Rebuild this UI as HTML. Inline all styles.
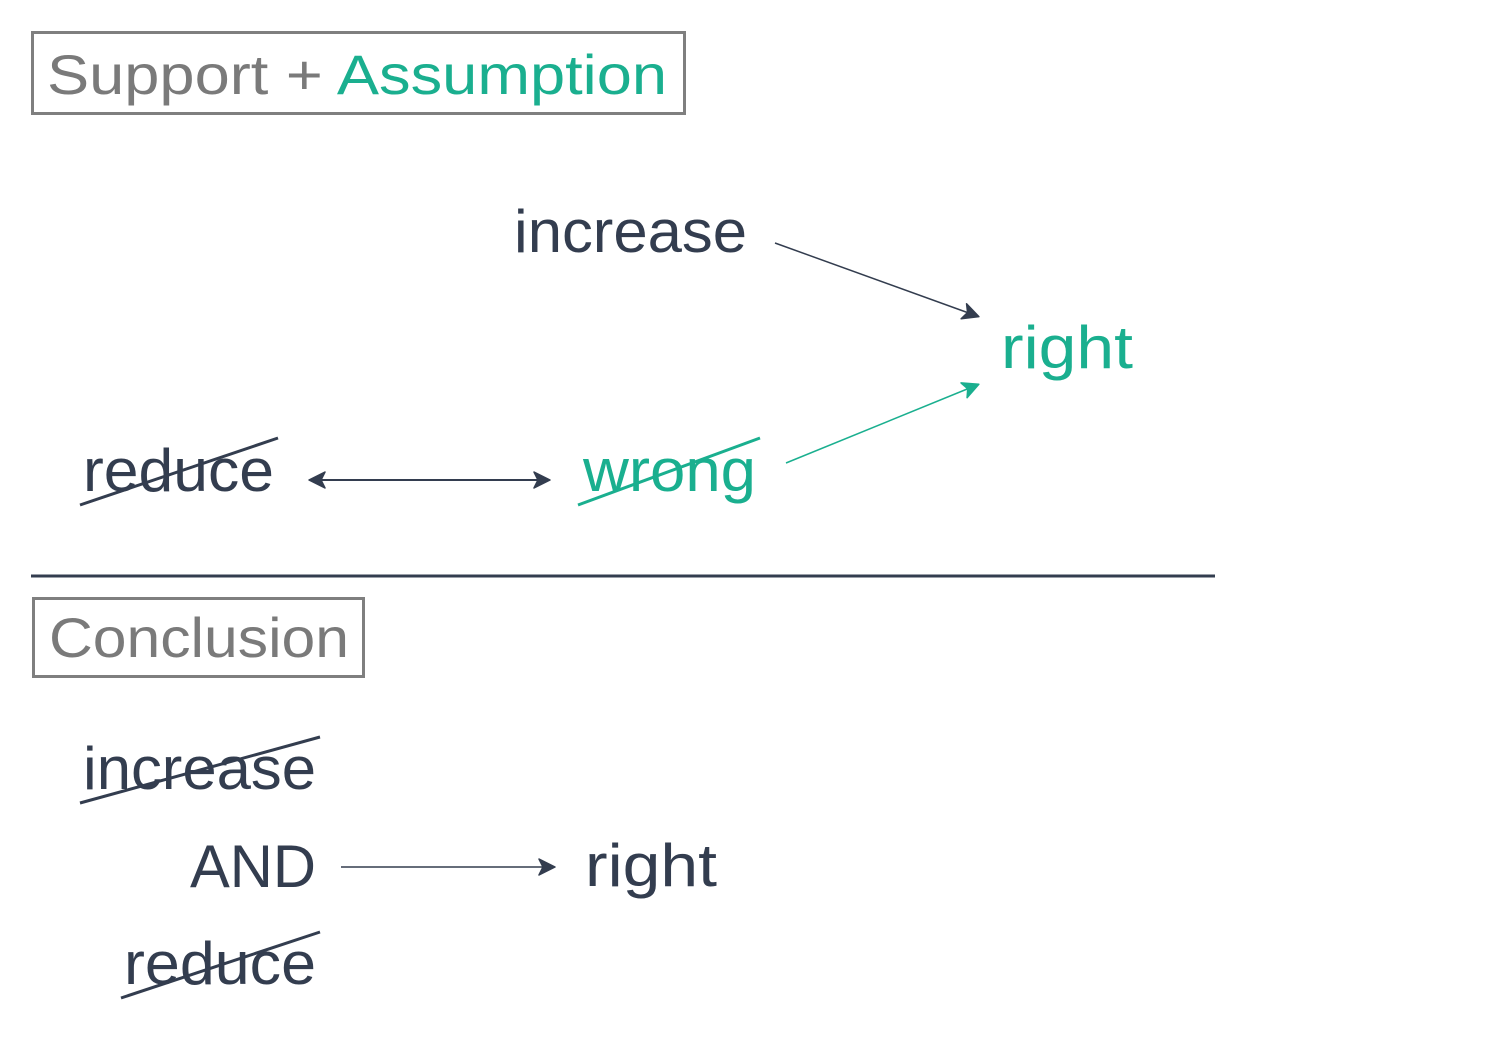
<!DOCTYPE html>
<html><head><meta charset="utf-8"><style>
html,body{margin:0;padding:0;background:#fff;}
svg{display:block;}
text{font-family:"Liberation Sans",sans-serif;}
</style></head><body>
<svg width="1487" height="1050" viewBox="0 0 1487 1050" xmlns="http://www.w3.org/2000/svg">
<defs>
<marker id="ad" viewBox="0 0 20 20" refX="16" refY="10" markerWidth="20" markerHeight="20" markerUnits="userSpaceOnUse" orient="auto-start-reverse">
<path d="M2,2 L18,10 L2,18 L6,10 Z" fill="#333d4f" stroke="#333d4f" stroke-width="1.5" stroke-linejoin="round"/></marker>
<marker id="ag" viewBox="0 0 20 20" refX="16" refY="10" markerWidth="20" markerHeight="20" markerUnits="userSpaceOnUse" orient="auto">
<path d="M2,2 L18,10 L2,18 L6,10 Z" fill="#1aaf8f" stroke="#1aaf8f" stroke-width="1.5" stroke-linejoin="round"/></marker>
</defs>
<rect x="32.5" y="32.5" width="652" height="81" fill="none" stroke="#7f7f7f" stroke-width="3"/>
<text x="47" y="94" font-size="56" fill="#7a7a7a" textLength="620" lengthAdjust="spacingAndGlyphs">Support + <tspan fill="#1aaf8f">Assumption</tspan></text>

<text x="514" y="252" font-size="60" fill="#333d4f" textLength="233" lengthAdjust="spacingAndGlyphs">increase</text>
<text x="1001" y="368" font-size="60" fill="#1aaf8f" textLength="132" lengthAdjust="spacingAndGlyphs">right</text>
<text x="83" y="491" font-size="60" fill="#333d4f" textLength="191" lengthAdjust="spacingAndGlyphs">reduce</text>
<line x1="80" y1="505" x2="278" y2="438" stroke="#333d4f" stroke-width="3"/>
<text x="583" y="491" font-size="60" fill="#1aaf8f" textLength="173" lengthAdjust="spacingAndGlyphs">wrong</text>
<line x1="578" y1="505" x2="760" y2="438" stroke="#1aaf8f" stroke-width="3"/>

<line x1="311" y1="480" x2="548" y2="480" stroke="#333d4f" stroke-width="2" marker-start="url(#ad)" marker-end="url(#ad)"/>
<line x1="775" y1="243" x2="977" y2="316" stroke="#333d4f" stroke-width="1.5" marker-end="url(#ad)"/>
<line x1="786" y1="463" x2="977" y2="385" stroke="#1aaf8f" stroke-width="1.5" marker-end="url(#ag)"/>

<line x1="31" y1="576" x2="1215" y2="576" stroke="#333d4f" stroke-width="3"/>

<rect x="33.5" y="598.5" width="330" height="78" fill="none" stroke="#7f7f7f" stroke-width="3"/>
<text x="49" y="657" font-size="56" fill="#7a7a7a" textLength="300" lengthAdjust="spacingAndGlyphs">Conclusion</text>

<text x="83" y="789" font-size="60" fill="#333d4f" textLength="233" lengthAdjust="spacingAndGlyphs">increase</text>
<line x1="80" y1="803" x2="320" y2="737" stroke="#333d4f" stroke-width="3"/>
<text x="190" y="887" font-size="60" fill="#333d4f" textLength="126" lengthAdjust="spacingAndGlyphs">AND</text>
<line x1="341" y1="867" x2="553" y2="867" stroke="#333d4f" stroke-width="1.5" marker-end="url(#ad)"/>
<text x="585" y="886" font-size="60" fill="#333d4f" textLength="132" lengthAdjust="spacingAndGlyphs">right</text>
<text x="124" y="984" font-size="60" fill="#333d4f" textLength="192" lengthAdjust="spacingAndGlyphs">reduce</text>
<line x1="121" y1="998" x2="320" y2="932" stroke="#333d4f" stroke-width="3"/>
</svg>
</body></html>
